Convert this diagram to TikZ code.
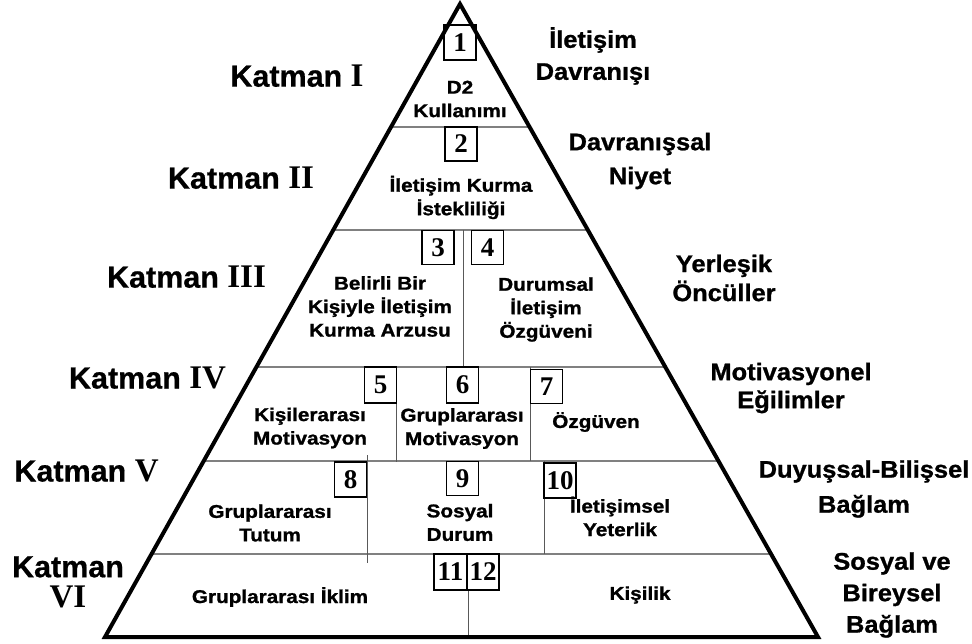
\documentclass[tikz,border=0pt]{standalone}
\usepackage{fontspec}
\setmainfont{Liberation Sans}[FakeBold=0.6]
\newfontfamily\innerfont{Liberation Sans}[FakeStretch=1.12,FakeBold=1.2]
\newfontfamily\sidefont{Liberation Sans}[FakeStretch=1.06,FakeBold=1.0]
\newfontfamily\romfont{Liberation Serif}
\usetikzlibrary{calc}
\tikzset{
  hline/.style={draw=black!50, line width=1.1pt},
  vline/.style={draw=black!65, line width=1pt},
  pyr/.style={draw=black, line width=4pt, line join=miter},
  numbox/.style={draw=black, line width=1.8pt, minimum width=32pt, minimum height=34pt, inner sep=0pt,
    font=\romfont\bfseries\fontsize{27}{27}\selectfont},
  intext/.style={align=center, inner sep=0pt, font=\innerfont\bfseries\fontsize{18.5}{23.5}\selectfont},
  sidetext/.style={align=center, inner sep=0pt, font=\sidefont\bfseries\fontsize{24}{33}\selectfont},
  katman/.style={align=center, inner sep=0pt, font=\bfseries\fontsize{30.5}{30}\selectfont},
}
\newcommand{\romnum}[1]{{\romfont\bfseries\fontsize{33}{33}\selectfont #1}}
\begin{document}
\begin{tikzpicture}[x=1pt,y=-1pt]
\useasboundingbox (0,0) rectangle (972,644);
\coordinate (apex) at (460,4);
\coordinate (bl) at (105,637);
\coordinate (br) at (818,637);
% horizontal layer lines
\foreach \yy/\nm in {127/a,230/b,367/c,461/d,554/e}{
  \coordinate (L\nm) at ($(apex)!{(\yy-4)/633}!(bl)$);
  \coordinate (R\nm) at ($(apex)!{(\yy-4)/633}!(br)$);
  \draw[hline] (L\nm) -- (R\nm);
}
% vertical dividers
\coordinate (v1a) at (463,230); \coordinate (v1b) at (463,367);
\coordinate (v2a) at (396,367); \coordinate (v2b) at (396,462);
\coordinate (v3a) at (530,367); \coordinate (v3b) at (530,461);
\coordinate (v4a) at (367,455); \coordinate (v4b) at (367,563);
\coordinate (v5a) at (544,461); \coordinate (v5b) at (544,554);
\coordinate (v6a) at (468,590); \coordinate (v6b) at (468,637);
\foreach \i in {1,...,6}{\draw[vline] (v\i a) -- (v\i b);}
% number boxes
\node[numbox, minimum height=35pt] (n1) at (460,42.5) {1};
\node[numbox] (n2) at (461,144) {2};
\node[numbox] (n3) at (438,247.5) {3};
\node[numbox] (n4) at (487.5,247.5) {4};
\node[numbox, minimum height=36pt] (n5) at (380.5,385) {5};
\node[numbox, minimum height=36pt] (n6) at (462.5,385) {6};
\node[numbox] (n7) at (546.5,386.5) {7};
\node[numbox, minimum height=35pt] (n8) at (350.5,479.5) {8};
\node[numbox] (n9) at (462.5,478.5) {9};
\node[numbox, minimum height=35pt] (n10) at (560,480.5) {10};
\node[numbox, minimum width=33pt, minimum height=36pt] (n11) at (450.5,572) {11};
\node[numbox, minimum width=32pt, minimum height=36pt] (n12) at (483,572) {12};
% pyramid outline
\draw[pyr] (apex) -- (bl) -- (br) -- cycle;
% inner texts
\node[intext] (t1) at (460,99) {D2\\Kullanımı};
\node[intext] (t2) at (461,197.5) {İletişim Kurma\\İstekliliği};
\node[intext] (t3) at (380,306.5) {Belirli Bir\\Kişiyle İletişim\\Kurma Arzusu};
\node[intext] (t4) at (546,309.5) {Durumsal\\İletişim\\Özgüveni};
\node[intext] (t5) at (310,428) {Kişilerarası\\Motivasyon};
\node[intext] (t6) at (462,428.5) {Gruplararası\\Motivasyon};
\node[intext] (t7) at (596,422) {Özgüven};
\node[intext] (t8) at (270,523) {Gruplararası\\Tutum};
\node[intext] (t9) at (460,522.5) {Sosyal\\Durum};
\node[intext] (t10) at (620,516.5) {İletişimsel\\Yeterlik};
\node[intext] (t11) at (280,597) {Gruplararası İklim};
\node[intext] (t12) at (640,595) {Kişilik};
% side texts
\node[sidetext, font=\sidefont\bfseries\fontsize{24}{32}\selectfont] (s1) at (593,56) {İletişim\\Davranışı};
\node[sidetext, font=\sidefont\bfseries\fontsize{24}{34}\selectfont] (s2) at (640,161) {Davranışsal\\Niyet};
\node[sidetext, font=\sidefont\bfseries\fontsize{24}{29}\selectfont] (s3) at (724,278) {Yerleşik\\Öncüller};
\node[sidetext, font=\sidefont\bfseries\fontsize{24}{28}\selectfont] (s4) at (791,388) {Motivasyonel\\Eğilimler};
\node[sidetext, font=\sidefont\bfseries\fontsize{24}{35}\selectfont] (s5) at (864,489) {Duyuşsal-Bilişsel\\Bağlam};
\node[sidetext, font=\sidefont\bfseries\fontsize{24}{31.5}\selectfont] (s6) at (892,595) {Sosyal ve\\Bireysel\\Bağlam};
% katman labels
\node[katman] (k1) at (297,76) {Katman \romnum{I}};
\node[katman] (k2) at (241,178) {Katman \romnum{II}};
\node[katman] (k3) at (186.5,277) {Katman \romnum{III}};
\node[katman] (k4) at (147.5,378) {Katman \romnum{IV}};
\node[katman] (k5) at (86.5,471) {Katman \romnum{V}};
\node[katman] (k6) at (68,582) {Katman\\\romnum{VI}};
\end{tikzpicture}
\end{document}
